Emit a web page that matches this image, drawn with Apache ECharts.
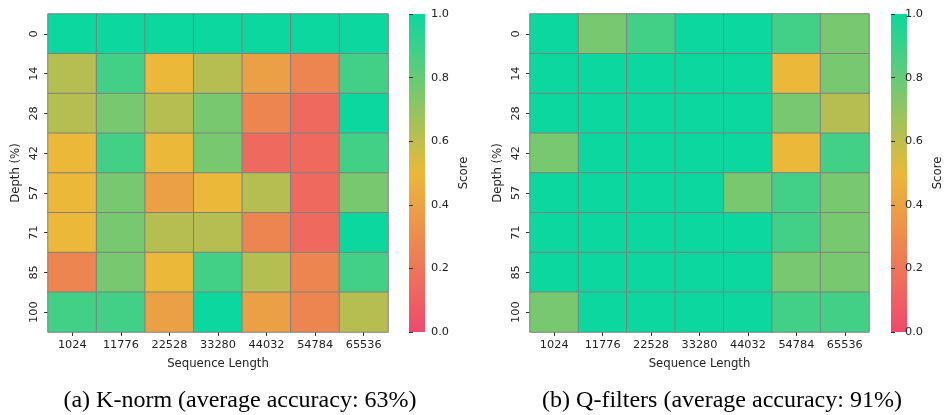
<!DOCTYPE html>
<html>
<head>
<meta charset="utf-8">
<script src="https://cdn.jsdelivr.net/npm/echarts@6/dist/echarts.min.js"></script>
<style>
  html, body { margin: 0; padding: 0; background: #fff; }
  #chart { width: 945px; height: 415px; }
</style>
</head>
<body>
<div id="chart"></div>
<script>
// sequence lengths (columns) and depth percentages (rows)
const seqLengths = ['1024', '11776', '22528', '33280', '44032', '54784', '65536'];
const depths = ['0', '14', '28', '42', '57', '71', '85', '100'];
const scoreTicks = [0, 0.2, 0.4, 0.6, 0.8, 1.0];

// scores per depth row
const kNormScores = [
  [1.00, 1.00, 1.00, 1.00, 1.00, 1.00, 1.00],
  [0.62, 0.88, 0.50, 0.62, 0.39, 0.27, 0.88],
  [0.62, 0.76, 0.62, 0.76, 0.27, 0.15, 1.00],
  [0.50, 0.88, 0.50, 0.76, 0.15, 0.15, 0.88],
  [0.50, 0.76, 0.39, 0.50, 0.62, 0.15, 0.76],
  [0.50, 0.76, 0.62, 0.62, 0.27, 0.15, 1.00],
  [0.27, 0.76, 0.50, 0.88, 0.62, 0.27, 0.88],
  [0.88, 0.88, 0.39, 1.00, 0.39, 0.27, 0.62]
];
const qFilterScores = [
  [1.00, 0.76, 0.88, 1.00, 1.00, 0.88, 0.76],
  [1.00, 1.00, 1.00, 1.00, 1.00, 0.50, 0.76],
  [1.00, 1.00, 1.00, 1.00, 1.00, 0.76, 0.62],
  [0.76, 1.00, 1.00, 1.00, 1.00, 0.50, 0.88],
  [1.00, 1.00, 1.00, 1.00, 0.76, 0.88, 0.76],
  [1.00, 1.00, 1.00, 1.00, 1.00, 0.88, 0.76],
  [1.00, 1.00, 1.00, 1.00, 1.00, 0.76, 0.76],
  [0.76, 1.00, 1.00, 1.00, 1.00, 0.88, 0.88]
];

const cmap = ['#F0496E', '#EBB839', '#0CD79F'];
const font = 'DejaVu Sans';
const tickSize = 11.3;
const nameSize = 11.7;

// turn row arrays into [x, y, value] cells
function toCells(rows) {
  const out = [];
  rows.forEach((row, y) => row.forEach((v, x) => out.push([x, y, v])));
  return out;
}

function heatAxes(gridIndex) {
  return {
    x: {
      type: 'category', gridIndex: gridIndex, data: seqLengths,
      name: 'Sequence Length', nameLocation: 'middle', nameGap: 26,
      nameTextStyle: { fontFamily: font, fontSize: nameSize, color: '#222' },
      axisLine: { show: false },
      axisTick: { show: true, alignWithLabel: true, length: 4, lineStyle: { color: '#333' } },
      axisLabel: { fontFamily: font, fontSize: tickSize, color: '#222', margin: 8, interval: 0 },
      splitArea: { show: false }
    },
    y: {
      type: 'category', gridIndex: gridIndex, data: depths, inverse: true,
      name: 'Depth (%)', nameLocation: 'middle', nameGap: 26, nameRotate: 90,
      nameTextStyle: { fontFamily: font, fontSize: nameSize, color: '#222' },
      axisLine: { show: false },
      axisTick: { show: true, alignWithLabel: true, length: 4, lineStyle: { color: '#333' } },
      axisLabel: { fontFamily: font, fontSize: tickSize, color: '#222', margin: 8, rotate: 90 },
      splitArea: { show: false }
    }
  };
}

function barAxes(gridIndex) {
  return {
    x: { type: 'value', gridIndex: gridIndex, show: false },
    y: {
      type: 'value', gridIndex: gridIndex, min: 0, max: 1, interval: 0.2, position: 'right',
      name: 'Score', nameLocation: 'middle', nameGap: 33, nameRotate: 90,
      nameTextStyle: { fontFamily: font, fontSize: nameSize, color: '#222' },
      axisLine: { show: false },
      axisTick: { show: true, length: 4, lineStyle: { color: '#333' } },
      axisLabel: { fontFamily: font, fontSize: tickSize, color: '#222', margin: 6,
        formatter: v => (scoreTicks.includes(Math.round(v * 10) / 10) ? v.toFixed(1) : '') },
      splitLine: { show: false }
    }
  };
}

// colour bar strip drawn as a gradient rectangle
function colorBar(left) {
  return {
    type: 'rect', left: left, top: 14, z: 0,
    shape: { width: 16, height: 318 },
    style: {
      fill: new echarts.graphic.LinearGradient(0, 1, 0, 0, [
        { offset: 0, color: cmap[0] },
        { offset: 0.5, color: cmap[1] },
        { offset: 1, color: cmap[2] }
      ])
    },
    silent: true
  };
}

const a1 = heatAxes(0), a2 = heatAxes(1), b1 = barAxes(2), b2 = barAxes(3);

const option = {
  animation: false,
  backgroundColor: '#fff',
  title: [
    { text: '(a) K-norm (average accuracy: 63%)', left: 235, top: 384, textAlign: 'center',
      textStyle: { fontFamily: 'Liberation Serif', fontSize: 24, fontWeight: 'normal', color: '#000' } },
    { text: '(b) Q-filters (average accuracy: 91%)', left: 717, top: 384, textAlign: 'center',
      textStyle: { fontFamily: 'Liberation Serif', fontSize: 24, fontWeight: 'normal', color: '#000' } }
  ],
  grid: [
    { left: 48, top: 14, width: 340, height: 318 },
    { left: 530, top: 14, width: 339, height: 318 },
    { left: 409, top: 14, width: 16, height: 318 },
    { left: 891, top: 14, width: 16, height: 318 }
  ],
  xAxis: [a1.x, a2.x, b1.x, b2.x],
  yAxis: [a1.y, a2.y, b1.y, b2.y],
  visualMap: [
    { type: 'continuous', show: false, min: 0, max: 1, seriesIndex: [0, 1], inRange: { color: cmap } }
  ],
  graphic: [colorBar(409), colorBar(891)],
  series: [
    { type: 'heatmap', xAxisIndex: 0, yAxisIndex: 0, data: toCells(kNormScores),
      itemStyle: { borderColor: '#808080', borderWidth: 1 }, emphasis: { disabled: true } },
    { type: 'heatmap', xAxisIndex: 1, yAxisIndex: 1, data: toCells(qFilterScores),
      itemStyle: { borderColor: '#808080', borderWidth: 1 }, emphasis: { disabled: true } }
  ]
};

const chart = echarts.init(document.getElementById('chart'));
chart.setOption(option);
</script>
</body>
</html>
